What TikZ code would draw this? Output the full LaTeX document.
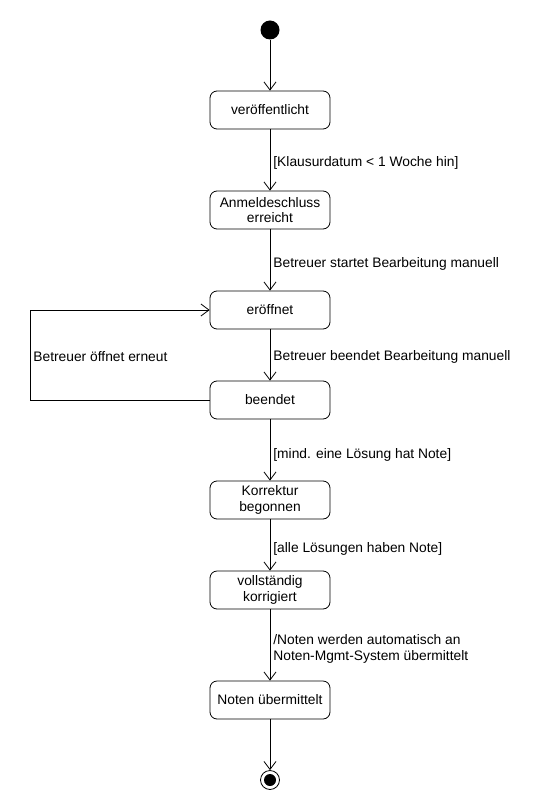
\documentclass[tikz,border=0pt]{standalone}
\usepackage{fontspec}
\setmainfont{Liberation Sans}
\usetikzlibrary{arrows.meta, positioning}

\begin{document}
\begin{tikzpicture}[x=1pt, y=-1pt, >={Straight Barb[length=8pt, width=12pt]},
	state/.style={draw, rounded corners=7pt, minimum width=120pt, minimum height=38pt,
		align=center, inner sep=2pt, font=\fontsize{13.8}{15.5}\selectfont},
	lbl/.style={right, font=\fontsize{13.8}{15.5}\selectfont, align=left, inner sep=3pt},
	every path/.style={line width=0.8pt}]
	% --- 1. FRAME ---
	\useasboundingbox (0, 0) rectangle (550, 810);
	
	% --- 2. STATES ---
	\node[circle, fill, inner sep=0pt, minimum size=19pt] (start) at (270, 30) {};
	\node[state] (pub)  at (270, 110) {veröffentlicht};
	\node[state] (reg)  at (270, 210) {Anmeldeschluss\\erreicht};
	\node[state] (open) at (270, 310) {eröffnet};
	\node[state] (done) at (270, 400) {beendet};
	\node[state] (corr) at (270, 500) {Korrektur\\begonnen};
	\node[state] (full) at (270, 590) {vollständig\\korrigiert};
	\node[state] (sent) at (270, 700) {Noten übermittelt};
	
	% End state: ring with a dot
	\node[circle, draw, inner sep=0pt, minimum size=19pt] (end) at (270, 780) {};
	\node[circle, fill, inner sep=0pt, minimum size=12pt] at (end) {};
	
	% Corner of the loop back
	\coordinate (loopA) at (30, 400);
	\coordinate (loopB) at (30, 310);
	
	% --- 3. TRANSITIONS ---
	\draw[->] (start) -- (pub);
	\draw[->] (pub) -- (reg) node[lbl, midway, yshift=-3pt] {[Klausurdatum < 1 Woche hin]};
	\draw[->] (reg) -- (open) node[lbl, midway, yshift=-4pt] {Betreuer startet Bearbeitung manuell};
	\draw[->] (open) -- (done) node[lbl, midway, yshift=-2pt] {Betreuer beendet Bearbeitung manuell};
	\draw[->] (done) -- (corr) node[lbl, midway, yshift=-5pt] {[mind. eine Lösung hat Note]};
	\draw[->] (corr) -- (full) node[lbl, midway, yshift=-4pt] {[alle Lösungen haben Note]};
	\draw[->] (full) -- (sent) node[lbl, midway, yshift=-4pt] {/Noten werden automatisch an\\Noten-Mgmt-System übermittelt};
	\draw[->] (sent) -- (end);
	
	% Loop: beendet back to eröffnet
	\draw[->] (done.west) -- (loopA) -- (loopB) -- (open.west);
	\node[lbl] (reopen) at (30, 357) {Betreuer öffnet erneut};
\end{tikzpicture}
\end{document}
